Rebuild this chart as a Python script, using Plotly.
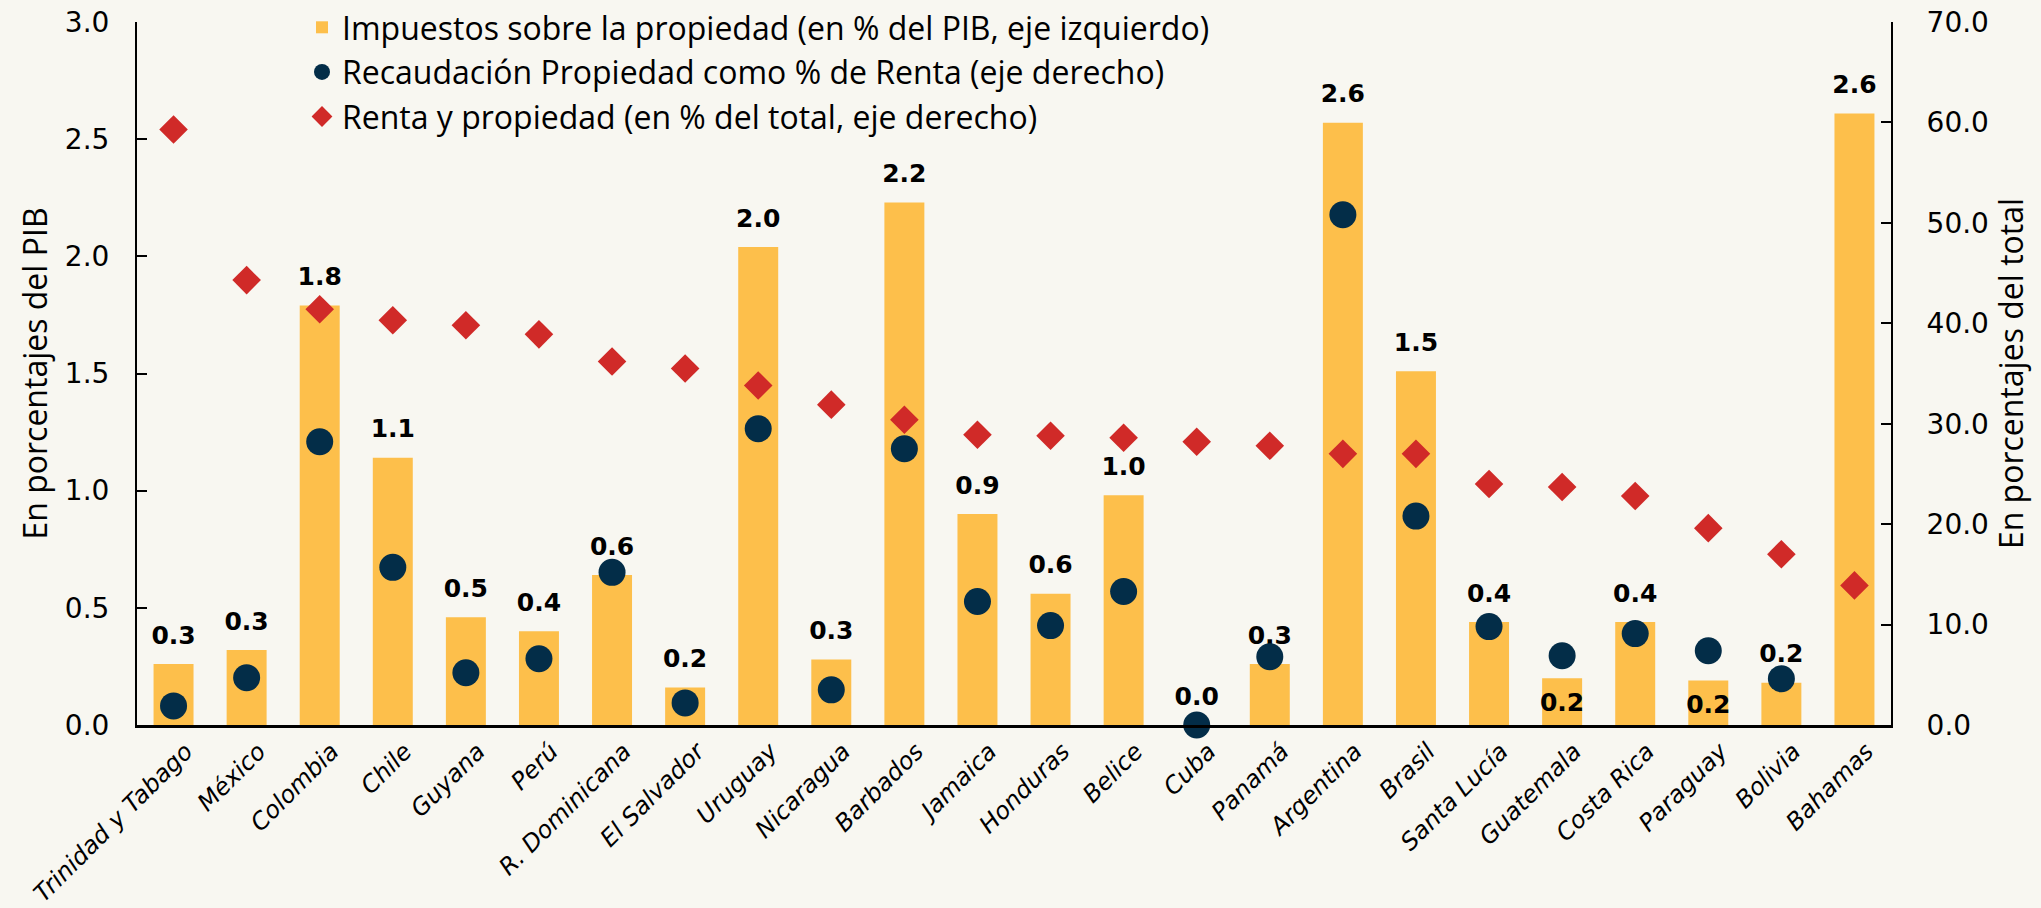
import plotly.graph_objects as go

countries = ["Trinidad y Tabago", "México", "Colombia", "Chile", "Guyana", "Perú",
             "R. Dominicana", "El Salvador", "Uruguay", "Nicaragua", "Barbados", "Jamaica",
             "Honduras", "Belice", "Cuba", "Panamá", "Argentina", "Brasil", "Santa Lucía",
             "Guatemala", "Costa Rica", "Paraguay", "Bolivia", "Bahamas"]

impuestos_propiedad = [0.26, 0.32, 1.79, 1.14, 0.46, 0.40, 0.64, 0.16, 2.04, 0.28, 2.23, 0.90,
                       0.56, 0.98, 0.00, 0.26, 2.57, 1.51, 0.44, 0.20, 0.44, 0.19, 0.18, 2.61]

recaudacion_prop_renta = [1.9, 4.7, 28.2, 15.7, 5.2, 6.6, 15.2, 2.2, 29.5, 3.5, 27.5, 12.3,
                          9.9, 13.3, 0.0, 6.8, 50.8, 20.8, 9.8, 6.9, 9.1, 7.4, 4.6, None]

renta_propiedad = [59.3, 44.3, 41.4, 40.3, 39.8, 38.9, 36.2, 35.5, 33.8, 31.9, 30.4, 28.9,
                   28.8, 28.6, 28.2, 27.8, 27.0, 27.0, 24.0, 23.7, 22.8, 19.6, 17.0, 13.9]

# labels that sit inside the bar top in the original
inside_labels = ["Guatemala", "Paraguay"]

left_ticks = [0.0, 0.5, 1.0, 1.5, 2.0, 2.5, 3.0]
right_ticks = [0, 10, 20, 30, 40, 50, 60, 70]

BG = "#F8F7F1"
BAR = "#FDBF4B"
NAVY = "#032D48"
RED = "#D02A28"

W, H = 2041, 908
ML, MR, MT, MB = 137, 150, 22, 183
PW, PH = W - ML - MR, H - MT - MB

fig = go.Figure()

fig.add_trace(go.Bar(
    x=countries, y=impuestos_propiedad,
    name="Impuestos sobre la propiedad (en % del PIB, eje izquierdo)",
    marker=dict(color=BAR, line=dict(width=0)),
    yaxis="y",
))

# data labels of the bars (drawn below the markers)
fig.add_trace(go.Scatter(
    x=countries, y=impuestos_propiedad,
    mode="markers+text",
    text=[f"{v:.1f}" for v in impuestos_propiedad],
    textposition=["bottom center" if c in inside_labels else "top center" for c in countries],
    textfont=dict(family="DejaVu Sans", size=25, color="#000000", weight="bold"),
    marker=dict(size=21, color="rgba(0,0,0,0)"),
    showlegend=False, hoverinfo="skip", yaxis="y", cliponaxis=False,
))

fig.add_trace(go.Scatter(
    x=countries, y=recaudacion_prop_renta,
    mode="markers",
    name="Recaudación Propiedad como % de Renta (eje derecho)",
    marker=dict(symbol="circle", size=27, color=NAVY, line=dict(width=0)),
    yaxis="y2", cliponaxis=False,
))

fig.add_trace(go.Scatter(
    x=countries, y=renta_propiedad,
    mode="markers",
    name="Renta y propiedad (en % del total, eje derecho)",
    marker=dict(symbol="diamond", size=22, color=RED, line=dict(width=0)),
    yaxis="y2", cliponaxis=False,
))

axis_font = dict(family="DejaVu Sans", size=28, color="#000000")
title_font = dict(family="Open Sans", size=32, color="#000000")

fig.update_layout(
    width=W, height=H,
    margin=dict(l=ML, r=MR, t=MT, b=MB, autoexpand=False),
    paper_bgcolor=BG, plot_bgcolor=BG,
    bargap=0.453,
    showlegend=True,
    legend=dict(
        x=(302 - ML) / PW, y=1 + MT / PH,
        xanchor="left", yanchor="top",
        bgcolor="rgba(0,0,0,0)",
        font=dict(family="Open Sans", size=32, color="#000000"),
        tracegroupgap=0,
    ),
    xaxis=dict(
        type="category", range=[-0.5, len(countries) - 0.5],
        showline=True, linecolor="#000000", linewidth=2.5,
        showgrid=False, zeroline=False, ticks="",
        tickangle=-45, ticklabelshift=12,
        tickfont=dict(family="DejaVu Sans", size=24, color="#000000", style="italic"),
    ),
    yaxis=dict(
        range=[0, 3], tickvals=left_ticks, tickformat=".1f",
        showline=True, linecolor="#000000", linewidth=2,
        ticks="inside", ticklen=10, tickwidth=2, tickcolor="#000000",
        showgrid=False, zeroline=False,
        tickfont=axis_font, ticklabelstandoff=20,
        title=dict(text="En porcentajes del PIB", font=title_font, standoff=8),
    ),
    yaxis2=dict(
        range=[0, 70], tickvals=right_ticks, tickformat=".1f",
        overlaying="y", side="right", anchor="x",
        showline=True, linecolor="#000000", linewidth=2,
        ticks="inside", ticklen=10, tickwidth=2, tickcolor="#000000",
        showgrid=False, zeroline=False,
        tickfont=axis_font, ticklabelstandoff=28,
        title=dict(text="En porcentajes del total", font=title_font, standoff=10),
    ),
)

fig.write_html("out.html",
               config={"displayModeBar": False},
               post_script="document.body.style.margin='0px';document.body.style.overflow='hidden';")
